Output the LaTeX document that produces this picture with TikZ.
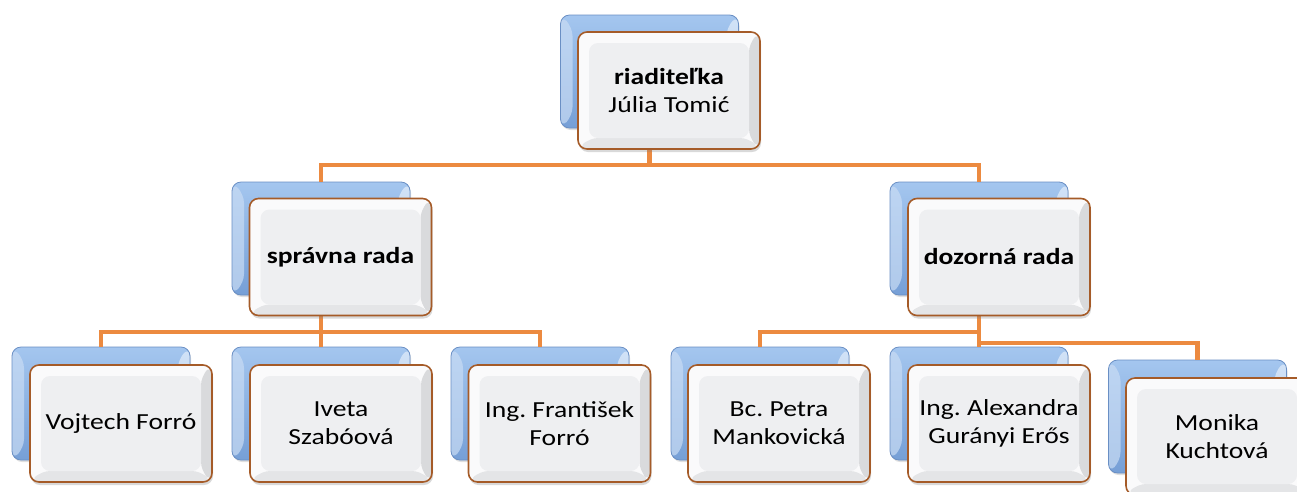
\documentclass[tikz,border=0pt]{standalone}
\usepackage{fontspec}
\setmainfont{Carlito}[FakeStretch=1.2]
\frenchspacing
\usetikzlibrary{shadows}
\definecolor{conncol}{HTML}{EC8A40}
\definecolor{bluetop}{HTML}{A4C6EF}
\definecolor{bluebot}{HTML}{769FD6}
\definecolor{blueedge}{HTML}{6A8FC4}
\definecolor{bluebevel}{HTML}{C9DCF4}
\definecolor{brownedge}{HTML}{A55B28}
\definecolor{faceout}{HTML}{FAFAFB}
\definecolor{facein}{HTML}{EEEFF1}
\definecolor{bevelright}{HTML}{D9DADC}
\definecolor{bevelbot}{HTML}{E4E5E7}
\tikzset{
  conn/.style={draw=conncol, line width=4.5pt},
  backbox/.style={rounded corners=9pt, minimum width=178pt, minimum height=113pt,
    draw=blueedge, line width=0.8pt, top color=bluetop, bottom color=bluebot,
    drop shadow={opacity=0.25, shadow xshift=1pt, shadow yshift=-2pt},
    path picture={
      \fill[bluebevel, opacity=0.7] (path picture bounding box.north west) -- ([shift={(12pt,-12pt)}]path picture bounding box.north west)
        -- ([shift={(12pt,12pt)}]path picture bounding box.south west) -- (path picture bounding box.south west) -- cycle;
      \fill[white, opacity=0.5] (path picture bounding box.north east) -- ([shift={(-12pt,-12pt)}]path picture bounding box.north east)
        -- ([shift={(-12pt,12pt)}]path picture bounding box.south east) -- (path picture bounding box.south east) -- cycle;
    }},
  frontbox/.style={rounded corners=9pt, minimum width=182pt, minimum height=117pt,
    draw=brownedge, line width=1.6pt, fill=faceout, align=center,
    font=\fontsize{23}{28}\selectfont, text=black,
    drop shadow={opacity=0.3, shadow xshift=1pt, shadow yshift=-3pt},
    path picture={
      \fill[bevelright] (path picture bounding box.north east) -- ([shift={(-11pt,-11pt)}]path picture bounding box.north east)
        -- ([shift={(-11pt,11pt)}]path picture bounding box.south east) -- (path picture bounding box.south east) -- cycle;
      \fill[bevelbot] (path picture bounding box.south west) -- ([shift={(11pt,11pt)}]path picture bounding box.south west)
        -- ([shift={(-11pt,11pt)}]path picture bounding box.south east) -- (path picture bounding box.south east) -- cycle;
      \fill[facein] ([shift={(11pt,-11pt)}]path picture bounding box.north west) rectangle ([shift={(-11pt,11pt)}]path picture bounding box.south east);
    }},
}
\begin{document}
\begin{tikzpicture}[x=1pt,y=-1pt]
\useasboundingbox (0,0) rectangle (1297,491);
\clip (0,0) rectangle (1297,491);
% bus levels
\coordinate (bus0) at (0,165);
\coordinate (bus1) at (0,332);
\coordinate (bus2) at (0,343);
% back boxes
\node[backbox] (b0) at (649.5,71.5) {};
\node[backbox] (b1) at (321,238.5) {};
\node[backbox] (b2) at (979,238.5) {};
\node[backbox] (b3) at (101,403.5) {};
\node[backbox] (b4) at (321,403.5) {};
\node[backbox] (b5) at (540,403.5) {};
\node[backbox] (b6) at (760,403.5) {};
\node[backbox] (b7) at (979,403.5) {};
\node[backbox] (b8) at (1197.5,416.5) {};
% connectors
\draw[conn] (b0 |- b0.south) -- (b0 |- bus0) -| (b1.north);
\draw[conn] (b0 |- bus0) -| (b2.north);
\draw[conn] (b1 |- b1.south) -- (b1 |- bus1) -| (b3.north);
\draw[conn] (b1 |- bus1) -| (b5.north);
\draw[conn] (b1 |- bus1) -- (b4.north);
\draw[conn] (b2 |- b2.south) -- (b2 |- bus1) -| (b6.north);
\draw[conn] (b2 |- bus1) -- (b7.north);
\draw[conn] (b2 |- bus2) -| (b8.north);
% front boxes
\node[frontbox] (w0) at (669,90.5) {\textbf{riaditeľka}\\Júlia Tomić};
\node[frontbox] (w1) at (340.5,257) {\textbf{správna rada}};
\node[frontbox] (w2) at (999,257) {\textbf{dozorná rada}};
\node[frontbox] (w3) at (121,423.5) {Vojtech Forró};
\node[frontbox] (w4) at (341,423.5) {Iveta\\Szabóová};
\node[frontbox] (w5) at (559.5,423.5) {Ing. František\\Forró};
\node[frontbox] (w6) at (779,423.5) {Bc. Petra\\Mankovická};
\node[frontbox] (w7) at (999,423.5) {Ing. Alexandra\\Gurányi Erős};
\node[frontbox] (w8) at (1217,436.5) {Monika\\Kuchtová};
\end{tikzpicture}
\end{document}
